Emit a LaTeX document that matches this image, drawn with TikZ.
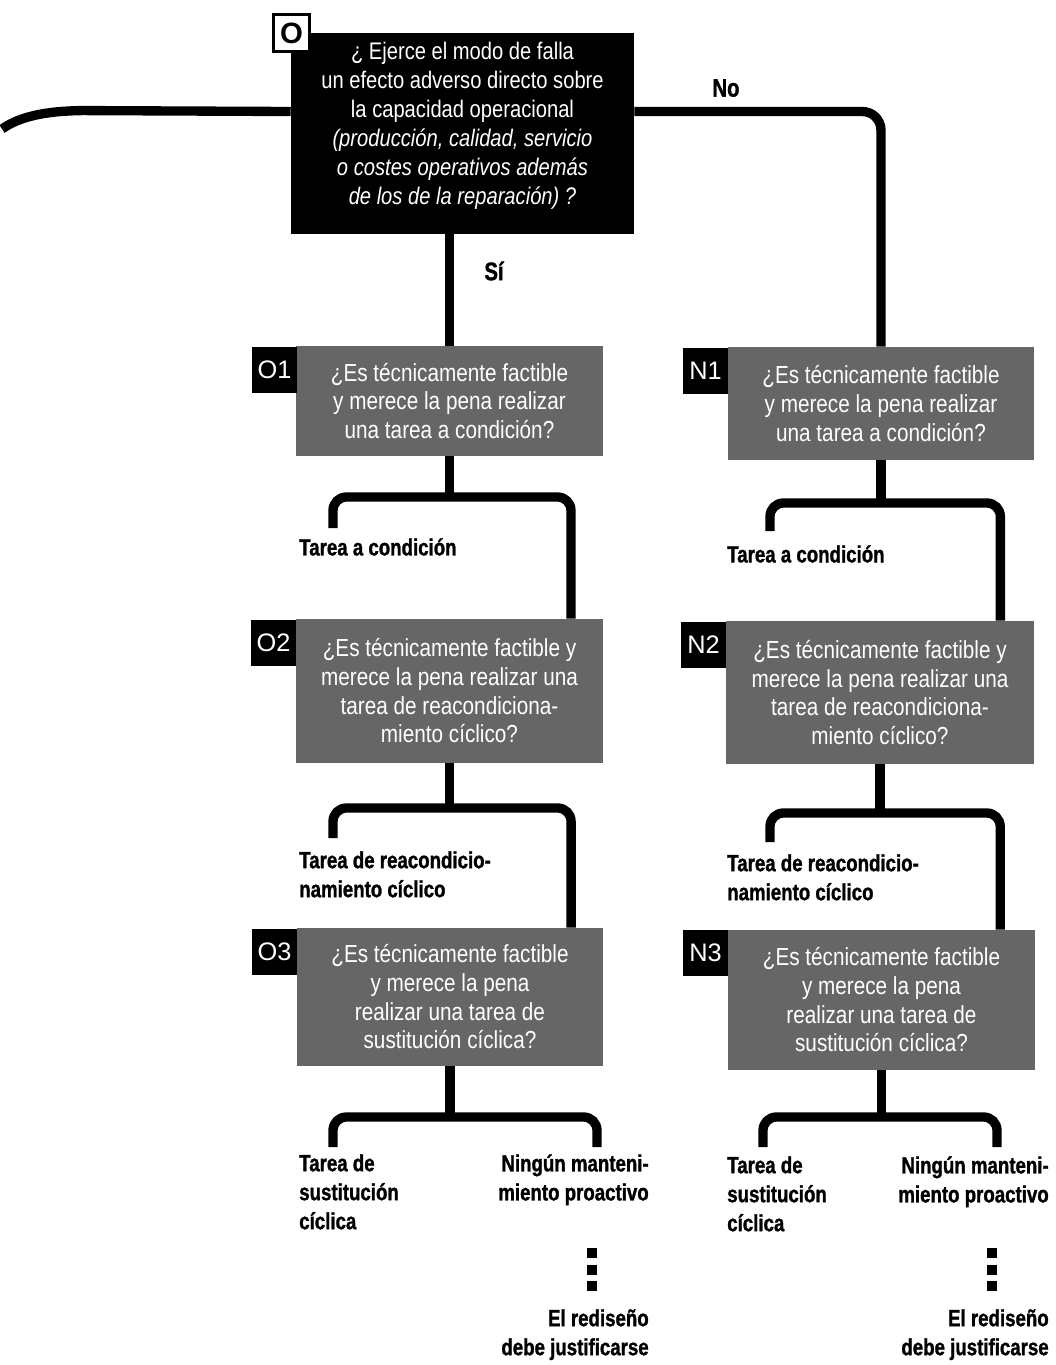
\documentclass[tikz,border=0pt]{standalone}
\usepackage{fontspec}
\setmainfont{Liberation Sans}
\newfontfamily\condfont[FakeStretch=0.84]{Liberation Sans}
\newfontfamily\heavyfont[FakeStretch=0.8, BoldFeatures={FakeBold=1.2}]{Liberation Sans}
\usetikzlibrary{calc}
\begin{document}
\begin{tikzpicture}[x=0.75pt,y=-0.75pt,
  conn/.style={line width=7pt, rounded corners=10pt},
  dots/.style={line width=8pt, dash pattern=on 7.5pt off 5pt},
  qbox/.style={fill=black, inner sep=0pt},
  qtext/.style={text=white, inner sep=0pt, align=center,
    font=\condfont\fontsize{18}{21.75}\selectfont},
  gbox/.style={fill=black!60, text=white, inner sep=0pt, align=center,
    font=\condfont\fontsize{18.5}{21.5}\selectfont},
  tagbox/.style={fill=black, text=white, inner sep=0pt, minimum width=33.75pt,
    minimum height=34.5pt, font=\fontsize{19}{19}\selectfont},
  otag/.style={fill=white, draw=black, line width=2.4pt, inner sep=0pt,
    minimum width=27pt, minimum height=28pt, font=\bfseries\fontsize{22}{22}\selectfont},
  lbl/.style={inner sep=0pt, align=left, font=\heavyfont\bfseries\fontsize{17.5}{21.75}\selectfont},
  lblr/.style={lbl, align=right},
  ans/.style={inner sep=0pt, font=\heavyfont\bfseries\fontsize{19}{19}\selectfont},
]
\useasboundingbox (0,0) rectangle (1056,1365);

% question boxes
\node[qbox, minimum width=257.25pt, minimum height=150.75pt] (O) at (462.5,133.5) {};
\node[qtext] (Otext) at (462.5,126)
  {¿ Ejerce el modo de falla\\ un efecto adverso directo sobre\\ la capacidad operacional\\
   \itshape (producción, calidad, servicio\\ \itshape o costes operativos además\\
   \itshape de los de la reparación) ?};
\node[otag] (Otag) at (291.5,33) {O};

\node[gbox, minimum width=230.25pt, minimum height=82.5pt] (O1) at (449.5,401)
  {¿Es técnicamente factible\\ y merece la pena realizar\\ una tarea a condición?};
\node[gbox, minimum width=229.5pt, minimum height=84.75pt] (N1) at (881,403.5)
  {¿Es técnicamente factible\\ y merece la pena realizar\\ una tarea a condición?};
\node[gbox, minimum width=230.25pt, minimum height=108pt] (O2) at (449.5,691)
  {¿Es técnicamente factible y\\ merece la pena realizar una\\ tarea de reacondiciona-\\ miento cíclico?};
\node[gbox, minimum width=231pt, minimum height=107.25pt] (N2) at (880,692.5)
  {¿Es técnicamente factible y\\ merece la pena realizar una\\ tarea de reacondiciona-\\ miento cíclico?};
\node[gbox, minimum width=229.5pt, minimum height=103.5pt] (O3) at (450,997)
  {¿Es técnicamente factible\\ y merece la pena\\ realizar una tarea de\\ sustitución cíclica?};
\node[gbox, minimum width=230.25pt, minimum height=105pt] (N3) at (881.5,1000)
  {¿Es técnicamente factible\\ y merece la pena\\ realizar una tarea de\\ sustitución cíclica?};

% tags
\node[tagbox] (O1L) at (274.5,370) {O1};
\node[tagbox] (N1L) at (705.5,370.5) {N1};
\node[tagbox] (O2L) at (273.5,642.5) {O2};
\node[tagbox] (N2L) at (703.5,644.5) {N2};
\node[tagbox] (O3L) at (274.5,951.5) {O3};
\node[tagbox] (N3L) at (705.5,952.5) {N3};

% answer labels
\node[ans] (No) at (726,88) {No};
\node[ans] (Si) at (494,271) {Sí};

\node[lbl, anchor=north west] (TA1) at (299,538) {Tarea a condición};
\node[lbl, anchor=north west] (TA2) at (727,545) {Tarea a condición};
\node[lbl, anchor=north west] (TR1) at (299,851) {Tarea de reacondicio-\\namiento cíclico};
\node[lbl, anchor=north west] (TR2) at (727,854) {Tarea de reacondicio-\\namiento cíclico};
\node[lbl, anchor=north west] (TS1) at (299,1154) {Tarea de\\sustitución\\cíclica};
\node[lbl, anchor=north west] (TS2) at (727,1156) {Tarea de\\sustitución\\cíclica};
\node[lblr, anchor=north east] (NM1) at (649,1154) {Ningún manteni-\\miento proactivo};
\node[lblr, anchor=north east] (NM2) at (1049,1156) {Ningún manteni-\\miento proactivo};
\node[lblr, anchor=north east] (RD1) at (649,1309) {El rediseño\\debe justificarse};
\node[lblr, anchor=north east] (RD2) at (1049,1309) {El rediseño\\debe justificarse};

% coordinates (free ends and junctions)
\coordinate (Lend) at (2,129);
\coordinate (j1) at (449.5,497);
\coordinate (j2) at (449.5,808);
\coordinate (j3) at (450,1117);
\coordinate (k1) at (881,503);
\coordinate (k2) at (880,813);
\coordinate (k3) at (881.5,1117);
\coordinate (a1) at (333,528);
\coordinate (a2) at (333,838);
\coordinate (a3) at (333,1147);
\coordinate (a4) at (597,1147);
\coordinate (b1) at (770,531);
\coordinate (b2) at (770,842);
\coordinate (b3) at (763,1147);
\coordinate (b4) at (997,1147);
\coordinate (d1t) at (592,1248);
\coordinate (d1b) at (592,1292);
\coordinate (d2t) at (992,1248);
\coordinate (d2b) at (992,1292);

% connectors
\draw[conn] ([yshift=16.5pt]O.west) -- ++(-220,-1) .. controls (35,114) and (16,119) .. (Lend);
\draw[conn, rounded corners=14pt] ([yshift=16.5pt]O.east) -| (N1.north);
\draw[conn] (O.south -| O1.north) -- (O1.north);

\draw[conn] (O1.south) -- (j1);
\draw[conn] (a1) |- (j1) -| ($(O2.north west)!0.895!(O2.north east)$);
\draw[conn] (O2.south) -- (j2);
\draw[conn] (a2) |- (j2) -| ($(O3.north west)!0.895!(O3.north east)$);
\draw[conn] (O3.south) -- (j3);
\draw[conn] (a3) |- (j3) -| (a4);

\draw[conn] (N1.south) -- (k1);
\draw[conn] (b1) |- (k1) -| ($(N2.north west)!0.89!(N2.north east)$);
\draw[conn] (N2.south) -- (k2);
\draw[conn] (b2) |- (k2) -| ($(N3.north west)!0.886!(N3.north east)$);
\draw[conn] (N3.south) -- (k3);
\draw[conn] (b3) |- (k3) -| (b4);

\draw[dots] (d1t) -- (d1b);
\draw[dots] (d2t) -- (d2b);
\end{tikzpicture}
\end{document}
